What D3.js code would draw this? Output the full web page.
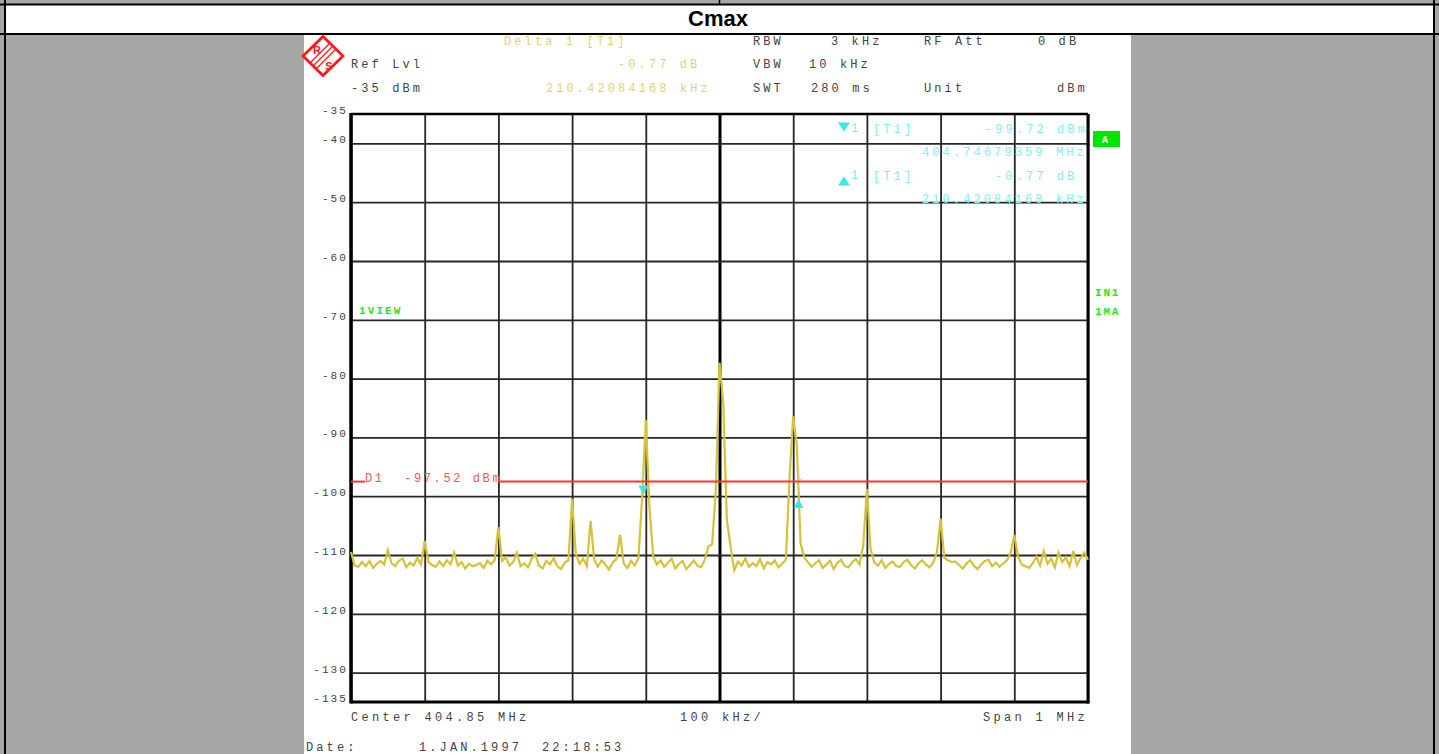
<!DOCTYPE html>
<html><head><meta charset="utf-8">
<script src="https://cdn.jsdelivr.net/npm/d3@7/dist/d3.min.js"></script>
<style>
html,body{margin:0;padding:0;background:#a6a6a6;overflow:hidden}
svg{display:block}
.mono{font-family:"Liberation Mono","DejaVu Sans Mono",monospace;white-space:pre}
</style></head><body>
<svg id="c" width="1439" height="754"></svg>
<script>
// ---------------- DATA ----------------
const chartTitle = "Cmax";
const yTickValues = [-35, -40, -50, -60, -70, -80, -90, -100, -110, -120, -130, -135];
const yGridValues = [-40, -50, -60, -70, -80, -90, -100, -110, -120, -130];
const freqStartMHz = 404.35;
const freqStopMHz = 405.35;
const freqStepMHz = 0.005;
const xGridValues = [404.35, 404.45, 404.55, 404.65, 404.75, 404.85, 404.95, 405.05, 405.15, 405.25, 405.35];
const centerFreqMHz = 404.85;
// trace level (dBm), one value per 5 kHz from 404.35 MHz
const traceLevels = [
 -109.5,-111.8,-112.0,-111.2,-111.9,-111.0,-112.2,-111.5,-111.0,-111.6,-109.2,-111.4,-111.9,-111.0,-110.6,-112.1,-111.3,-111.8,-110.5,-111.6,
 -107.6,-111.2,-111.7,-112.0,-111.1,-111.9,-110.9,-111.6,-109.6,-111.8,-111.2,-112.3,-111.5,-111.9,-111.7,-111.4,-112.2,-111.0,-111.6,-110.8,
 -105.2,-111.0,-110.4,-111.8,-111.2,-109.6,-111.9,-111.4,-112.1,-110.7,-109.8,-111.8,-112.3,-111.0,-111.6,-110.5,-111.9,-112.4,-111.3,-110.9,
 -100.5,-109.8,-111.5,-110.6,-111.9,-104.2,-110.8,-112.0,-110.9,-111.6,-112.5,-111.3,-110.7,-106.6,-111.4,-112.2,-111.0,-111.8,-110.6,-100.3,
 -87.0,-102.0,-110.2,-111.6,-110.9,-112.0,-111.3,-110.6,-112.3,-111.5,-111.0,-112.4,-111.7,-110.9,-111.8,-112.1,-110.8,-108.5,-108.2,-99.0,
 -77.3,-84.0,-104.0,-108.6,-112.6,-111.1,-111.8,-110.6,-112.0,-111.4,-111.9,-110.7,-112.3,-111.2,-111.6,-110.9,-112.1,-111.5,-110.8,-97.0,
 -86.4,-91.5,-108.0,-110.4,-111.2,-112.0,-111.4,-110.9,-112.2,-111.6,-111.0,-112.4,-111.3,-110.8,-111.9,-112.1,-111.2,-110.7,-111.6,-108.4,
 -98.8,-109.0,-111.3,-111.8,-110.9,-112.2,-111.5,-111.1,-111.9,-112.0,-111.2,-110.8,-111.7,-112.3,-111.4,-110.9,-111.6,-112.1,-111.3,-109.5,
 -103.8,-110.5,-110.9,-111.2,-111.1,-111.7,-112.3,-111.5,-110.9,-111.8,-112.4,-111.6,-111.0,-110.8,-111.9,-111.3,-112.0,-111.4,-110.9,-109.7,
 -106.6,-110.2,-111.6,-111.9,-112.2,-111.4,-110.3,-111.8,-109.3,-111.5,-110.6,-112.1,-109.6,-111.2,-110.4,-111.9,-109.3,-111.7,-110.5,-109.6,-110.8
];
const displayLineLevel = -97.52;
const displayLineLabel = "D1  -97.52 dBm";
const marker1 = {freq: 404.74679359, level: -99.72};
const deltaMarker = {freq: 404.95721443, level: -100.49};
const markerTexts = ["[T1]", "-99.72 dBm", "404.74679359 MHz", "[T1]", "-0.77 dB", "210.42084168 kHz"];
const headerLeft = ["Ref Lvl", "-35 dBm"];
const headerDelta = ["Delta 1 [T1]", "-0.77 dB", "210.42084168 kHz"];
const settingNames = ["RBW", "VBW", "SWT"];
const settingValues = ["3 kHz", "10 kHz", "280 ms"];
const extraNames = ["RF Att", "Unit"];
const extraValues = ["0 dB", "dBm"];
const footer = ["Center 404.85 MHz", "100 kHz/", "Span 1 MHz"];
const dateTexts = ["Date:", "1.JAN.1997", "22:18:53"];
const statusTexts = ["1VIEW", "IN1", "1MA", "A"];

// ---------------- DRAW ----------------
const svg = d3.select("#c");
const W = 1439, H = 754;
const L = 351, R = 1088, T = 114, B = 702;
const x = d3.scaleLinear().domain([freqStartMHz, freqStopMHz]).range([L, R]);
const y = d3.scaleLinear().domain([-135, -35]).range([B, T]);

// page frame
svg.append("rect").attr("x",0).attr("y",0).attr("width",W).attr("height",H).attr("fill","#a6a6a6");
svg.append("rect").attr("x",5).attr("y",5).attr("width",1429).attr("height",29).attr("fill","#fff");
svg.append("rect").attr("x",304).attr("y",35).attr("width",827).attr("height",H-35).attr("fill","#fff");
svg.append("line").attr("x1",0).attr("x2",W).attr("y1",4.5).attr("y2",4.5).attr("stroke","#000").attr("stroke-width",2);
svg.append("line").attr("x1",0).attr("x2",W).attr("y1",34).attr("y2",34).attr("stroke","#000").attr("stroke-width",2);
svg.append("line").attr("x1",5).attr("x2",5).attr("y1",0).attr("y2",H).attr("stroke","#000").attr("stroke-width",2);
svg.append("line").attr("x1",1434).attr("x2",1434).attr("y1",0).attr("y2",H).attr("stroke","#000").attr("stroke-width",2);
svg.append("line").attr("x1",719.5).attr("x2",719.5).attr("y1",0).attr("y2",4).attr("stroke","#000").attr("stroke-width",1.5);
svg.append("text").attr("x",718).attr("y",26).attr("text-anchor","middle")
  .attr("font-family","Liberation Sans, Arial, sans-serif").attr("font-weight","bold").attr("font-size",22)
  .text(chartTitle);

// helper
function txt(px, py, s, fill, size, ls, extra) {
  const t = svg.append("text").attr("class","mono").attr("x",px).attr("y",py)
    .attr("font-size",size||12).attr("letter-spacing",(ls==null?3.1:ls)).attr("fill",fill||"#444").text(s);
  if (extra) extra(t);
  return t;
}

// R&S logo
const lg = svg.append("g").attr("transform","translate(323,56)");
lg.append("path").attr("d","M0,-19.5 L20,0 L0,19.5 L-20,0 Z").attr("fill","#fff").attr("stroke","#ff1a1a").attr("stroke-width",2.8);
[-3,0,3].forEach(o=>lg.append("line").attr("x1",-9+o).attr("y1",9+o).attr("x2",9+o).attr("y2",-9+o).attr("stroke","#ff1a1a").attr("stroke-width",1.3));
lg.append("text").attr("x",-6).attr("y",-2).attr("text-anchor","middle").attr("font-family","Liberation Sans, Arial").attr("font-weight","bold").attr("font-size",11).attr("fill","#ff1a1a").text("R");
lg.append("text").attr("x",6).attr("y",14).attr("text-anchor","middle").attr("font-family","Liberation Sans, Arial").attr("font-weight","bold").attr("font-size",11).attr("fill","#ff1a1a").text("S");

// header
const gray = "#444", yel = "#e3d173", cyan = "#82eeee";
txt(351, 68, headerLeft[0], gray);
txt(351, 92, headerLeft[1], gray);
txt(504, 45, headerDelta[0], yel);
txt(618, 68, headerDelta[1], yel);
txt(546, 92, headerDelta[2], yel);
[45,68,92].forEach((by,i)=>txt(753, by, settingNames[i], gray));
txt(831, 45, settingValues[0], gray);
txt(809, 68, settingValues[1], gray);
txt(811, 92, settingValues[2], gray);
txt(924, 45, extraNames[0], gray);
txt(924, 92, extraNames[1], gray);
txt(1038, 45, extraValues[0], gray);
txt(1057, 92, extraValues[1], gray);

// grid
const gx = svg.append("g").attr("transform",`translate(0,${B})`)
  .call(d3.axisBottom(x).tickValues(xGridValues).tickSize(-(B-T)).tickFormat(""));
gx.select(".domain").remove();
gx.selectAll(".tick line").attr("stroke","#262626").attr("stroke-width",1.8)
  .filter(d=>Math.abs(d-centerFreqMHz)<1e-9).attr("stroke","#000").attr("stroke-width",3);
const gy = svg.append("g").attr("transform",`translate(${L},0)`)
  .call(d3.axisLeft(y).tickValues(yGridValues).tickSize(-(R-L)).tickFormat(""));
gy.select(".domain").remove();
gy.selectAll(".tick line").attr("stroke","#262626").attr("stroke-width",1.8);

// y labels
const ya = svg.append("g").attr("transform",`translate(${L},0)`)
  .call(d3.axisLeft(y).tickValues(yTickValues).tickSize(0).tickPadding(3).tickFormat(d=>String(d)));
ya.select(".domain").remove();
ya.selectAll(".tick text").attr("class","mono").attr("font-size",11).attr("letter-spacing",2.1)
  .attr("fill","#444").attr("dy","-0.5").attr("font-family",null);

// frame
svg.append("line").attr("x1",L).attr("x2",R).attr("y1",T).attr("y2",T).attr("stroke","#000").attr("stroke-width",2.5);
svg.append("line").attr("x1",R).attr("x2",R).attr("y1",T).attr("y2",B+1.5).attr("stroke","#000").attr("stroke-width",3);
svg.append("line").attr("x1",L).attr("x2",L).attr("y1",T-1).attr("y2",B+1.5).attr("stroke","#000").attr("stroke-width",3.5);
svg.append("line").attr("x1",L).attr("x2",R+1.5).attr("y1",B).attr("y2",B).attr("stroke","#000").attr("stroke-width",3);

// trace
const line = d3.line().x((d,i)=>x(freqStartMHz + i*freqStepMHz)).y(d=>y(d));
svg.append("path").datum(traceLevels).attr("d",line).attr("fill","none")
  .attr("stroke","#d6c237").attr("stroke-width",2.2).attr("stroke-linejoin","miter");

// display line D1
const dl = y(displayLineLevel);
svg.append("line").attr("x1",L).attr("x2",365).attr("y1",dl).attr("y2",dl).attr("stroke","#ff3535").attr("stroke-width",2);
svg.append("line").attr("x1",498).attr("x2",R).attr("y1",dl).attr("y2",dl).attr("stroke","#ff3535").attr("stroke-width",2);
txt(365, dl, displayLineLabel, "#ff5555", 12, 2.6);

// markers
const m1x = x(marker1.freq), m1y = y(marker1.level);
svg.append("path").attr("d",`M${m1x-5},${m1y-9} L${m1x+5},${m1y-9} L${m1x},${m1y} Z`).attr("fill","#3fe6e6");
txt(m1x-4, m1y-17, "1", cyan, 9, 0);
const dmx = x(deltaMarker.freq), dmy = y(deltaMarker.level);
svg.append("path").attr("d",`M${dmx-5},${dmy+9} L${dmx+5},${dmy+9} L${dmx},${dmy} Z`).attr("fill","#3fe6e6");
txt(dmx-2, dmy-19, "1", cyan, 9, 0);

// marker info
svg.append("path").attr("d","M838,122.5 L850,122.5 L844,131.5 Z").attr("fill","#3fe6e6");
txt(851, 132, "1", cyan);
txt(873, 133, markerTexts[0], cyan);
txt(985, 133, markerTexts[1], cyan);
txt(922, 156, markerTexts[2], cyan);
svg.append("path").attr("d","M838,185.5 L850,185.5 L844,176.5 Z").attr("fill","#3fe6e6");
txt(851, 179, "1", cyan);
txt(873, 180, markerTexts[3], cyan);
txt(995, 180, markerTexts[4], cyan);
txt(922, 203, markerTexts[5], cyan);

// status
const grn = "#22e622";
const boldG = t=>t.attr("font-weight","bold");
txt(359, 314, statusTexts[0], grn, 11, 2.1, boldG);
txt(1095, 296, statusTexts[1], grn, 11, 1.8, boldG);
txt(1095, 314.5, statusTexts[2], grn, 11, 1.8, boldG);
svg.append("rect").attr("x",1093).attr("y",131).attr("width",27).attr("height",16).attr("fill","#00e600");
txt(1102, 143, statusTexts[3], "#fff", 10, 0, boldG);

// footer
txt(351, 721, footer[0], gray, 12, 3.3);
txt(680, 721, footer[1], gray, 12, 3.3);
txt(983, 721, footer[2], gray, 12, 3.3);
txt(306, 751, dateTexts[0], gray, 12, 3.1);
txt(419, 751, dateTexts[1], gray, 12, 3.1);
txt(542, 751, dateTexts[2], gray, 12, 3.1);
</script>
</body></html>
